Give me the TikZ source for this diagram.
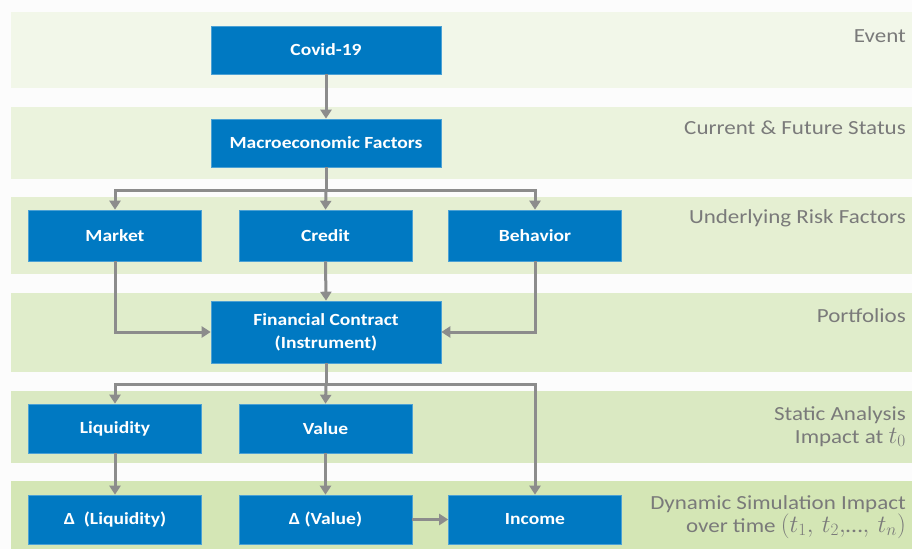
\documentclass[tikz,border=0pt]{standalone}
\usepackage{fontspec}
\setmainfont[FakeStretch=1.15]{Carlito}
\usetikzlibrary{arrows.meta}
\definecolor{boxblue}{HTML}{0079C2}
\definecolor{flowgray}{HTML}{8C8C8C}
\definecolor{labelgray}{HTML}{7A7A7A}
\definecolor{bandA}{HTML}{F2F7E9}
\definecolor{bandB}{HTML}{EBF3DD}
\definecolor{bandC}{HTML}{E5EFD2}
\definecolor{bandD}{HTML}{E0EDCB}
\definecolor{bandE}{HTML}{DAE9C2}
\definecolor{bandF}{HTML}{D4E6B5}
\newcommand{\bigmath}[1]{{\fontsize{23}{23}\selectfont$#1$}}
\tikzset{
  box/.style={fill=boxblue, draw=boxblue!70!white, line width=0.6pt, text=white,
    font=\fontsize{17}{23}\selectfont\bfseries, align=center, inner sep=0pt},
  flow/.style={draw=flowgray, line width=3pt,
    -{Triangle[length=9pt,width=11pt]}},
  line/.style={draw=flowgray, line width=3pt},
  stage/.style={text=labelgray, font=\fontsize{20}{23}\selectfont,
    anchor=base east, inner sep=0pt},
}
\begin{document}
\begin{tikzpicture}[x=1pt,y=-1pt]
\useasboundingbox (0,0) rectangle (912,549);
\fill[white!99!black] (0,0) rectangle (912,549);
% stage bands
\fill[bandA] (11,12)  rectangle (912,88);
\fill[bandB] (11,107) rectangle (912,179);
\fill[bandC] (11,197) rectangle (912,274);
\fill[bandD] (11,293) rectangle (912,372);
\fill[bandE] (11,391) rectangle (912,463);
\fill[bandF] (11,481) rectangle (912,549);
% stage labels
\node[stage] (lev)  at (906,42)  {Event};
\node[stage] (lcf)  at (906,134) {Current \& Future Status};
\node[stage] (lrf)  at (906,223) {Underlying Risk Factors};
\node[stage] (lpf)  at (906,322) {Portfolios};
\node[stage] (lsa1) at (906,420) {Static Analysis};
\node[stage] (lsa2) at (906,443) {Impact at \bigmath{t_0}};
\node[stage] (lds1) at (906,509) {Dynamic Simulation Impact};
\node[stage] (lds2) at (906,532) {over time \bigmath{(t_1,\,t_2,}{\fontsize{21}{21}\selectfont\ldots}\bigmath{,\,t_n)}};
% boxes
\node[box, minimum width=230pt, minimum height=48pt] (covid) at (326,50) {Covid-19};
\node[box, minimum width=230pt, minimum height=48pt] (macro) at (326,143) {Macroeconomic Factors};
\node[box, minimum width=173pt, minimum height=51pt] (market) at (115,235.5) {Market};
\node[box, minimum width=173pt, minimum height=51pt] (credit) at (325.5,235.5) {Credit};
\node[box, minimum width=173pt, minimum height=51pt] (behav) at (535,235.5) {Behavior};
\node[box, minimum width=230pt, minimum height=62pt] (fin) at (326,332) {Financial Contract\\(Instrument)};
\node[box, minimum width=173pt, minimum height=49pt] (liq) at (115,428.5) {Liquidity};
\node[box, minimum width=173pt, minimum height=49pt] (val) at (325.5,428.5) {Value};
\node[box, minimum width=173pt, minimum height=49pt] (dliq) at (115,519.5) {Δ\ \ (Liquidity)};
\node[box, minimum width=173pt, minimum height=49pt] (dval) at (325.5,519.5) {Δ (Value)};
\node[box, minimum width=173pt, minimum height=49pt] (inc) at (535,519.5) {Income};
% junction points
\coordinate (s1) at (326,190);
\coordinate (s2) at (326,384);
% connectors
\draw[flow] (covid) -- (macro);
\draw[line] (macro.south) -- (s1);
\draw[flow] (s1) -| (market.north);
\draw[flow] (s1) -| (behav.north);
\draw[flow] (s1) -- (credit.north);
\draw[flow] (market.south) |- (fin.west);
\draw[flow] (behav.south) |- (fin.east);
\draw[flow] (credit.south) -- (fin.north);
\draw[line] (fin.south) -- (s2);
\draw[flow] (s2) -| (liq.north);
\draw[flow] (s2) -- (val.north);
\draw[flow] (s2) -| (inc.north);
\draw[flow] (liq) -- (dliq);
\draw[flow] (val) -- (dval);
\draw[flow] (dval) -- (inc);
\end{tikzpicture}
\end{document}
